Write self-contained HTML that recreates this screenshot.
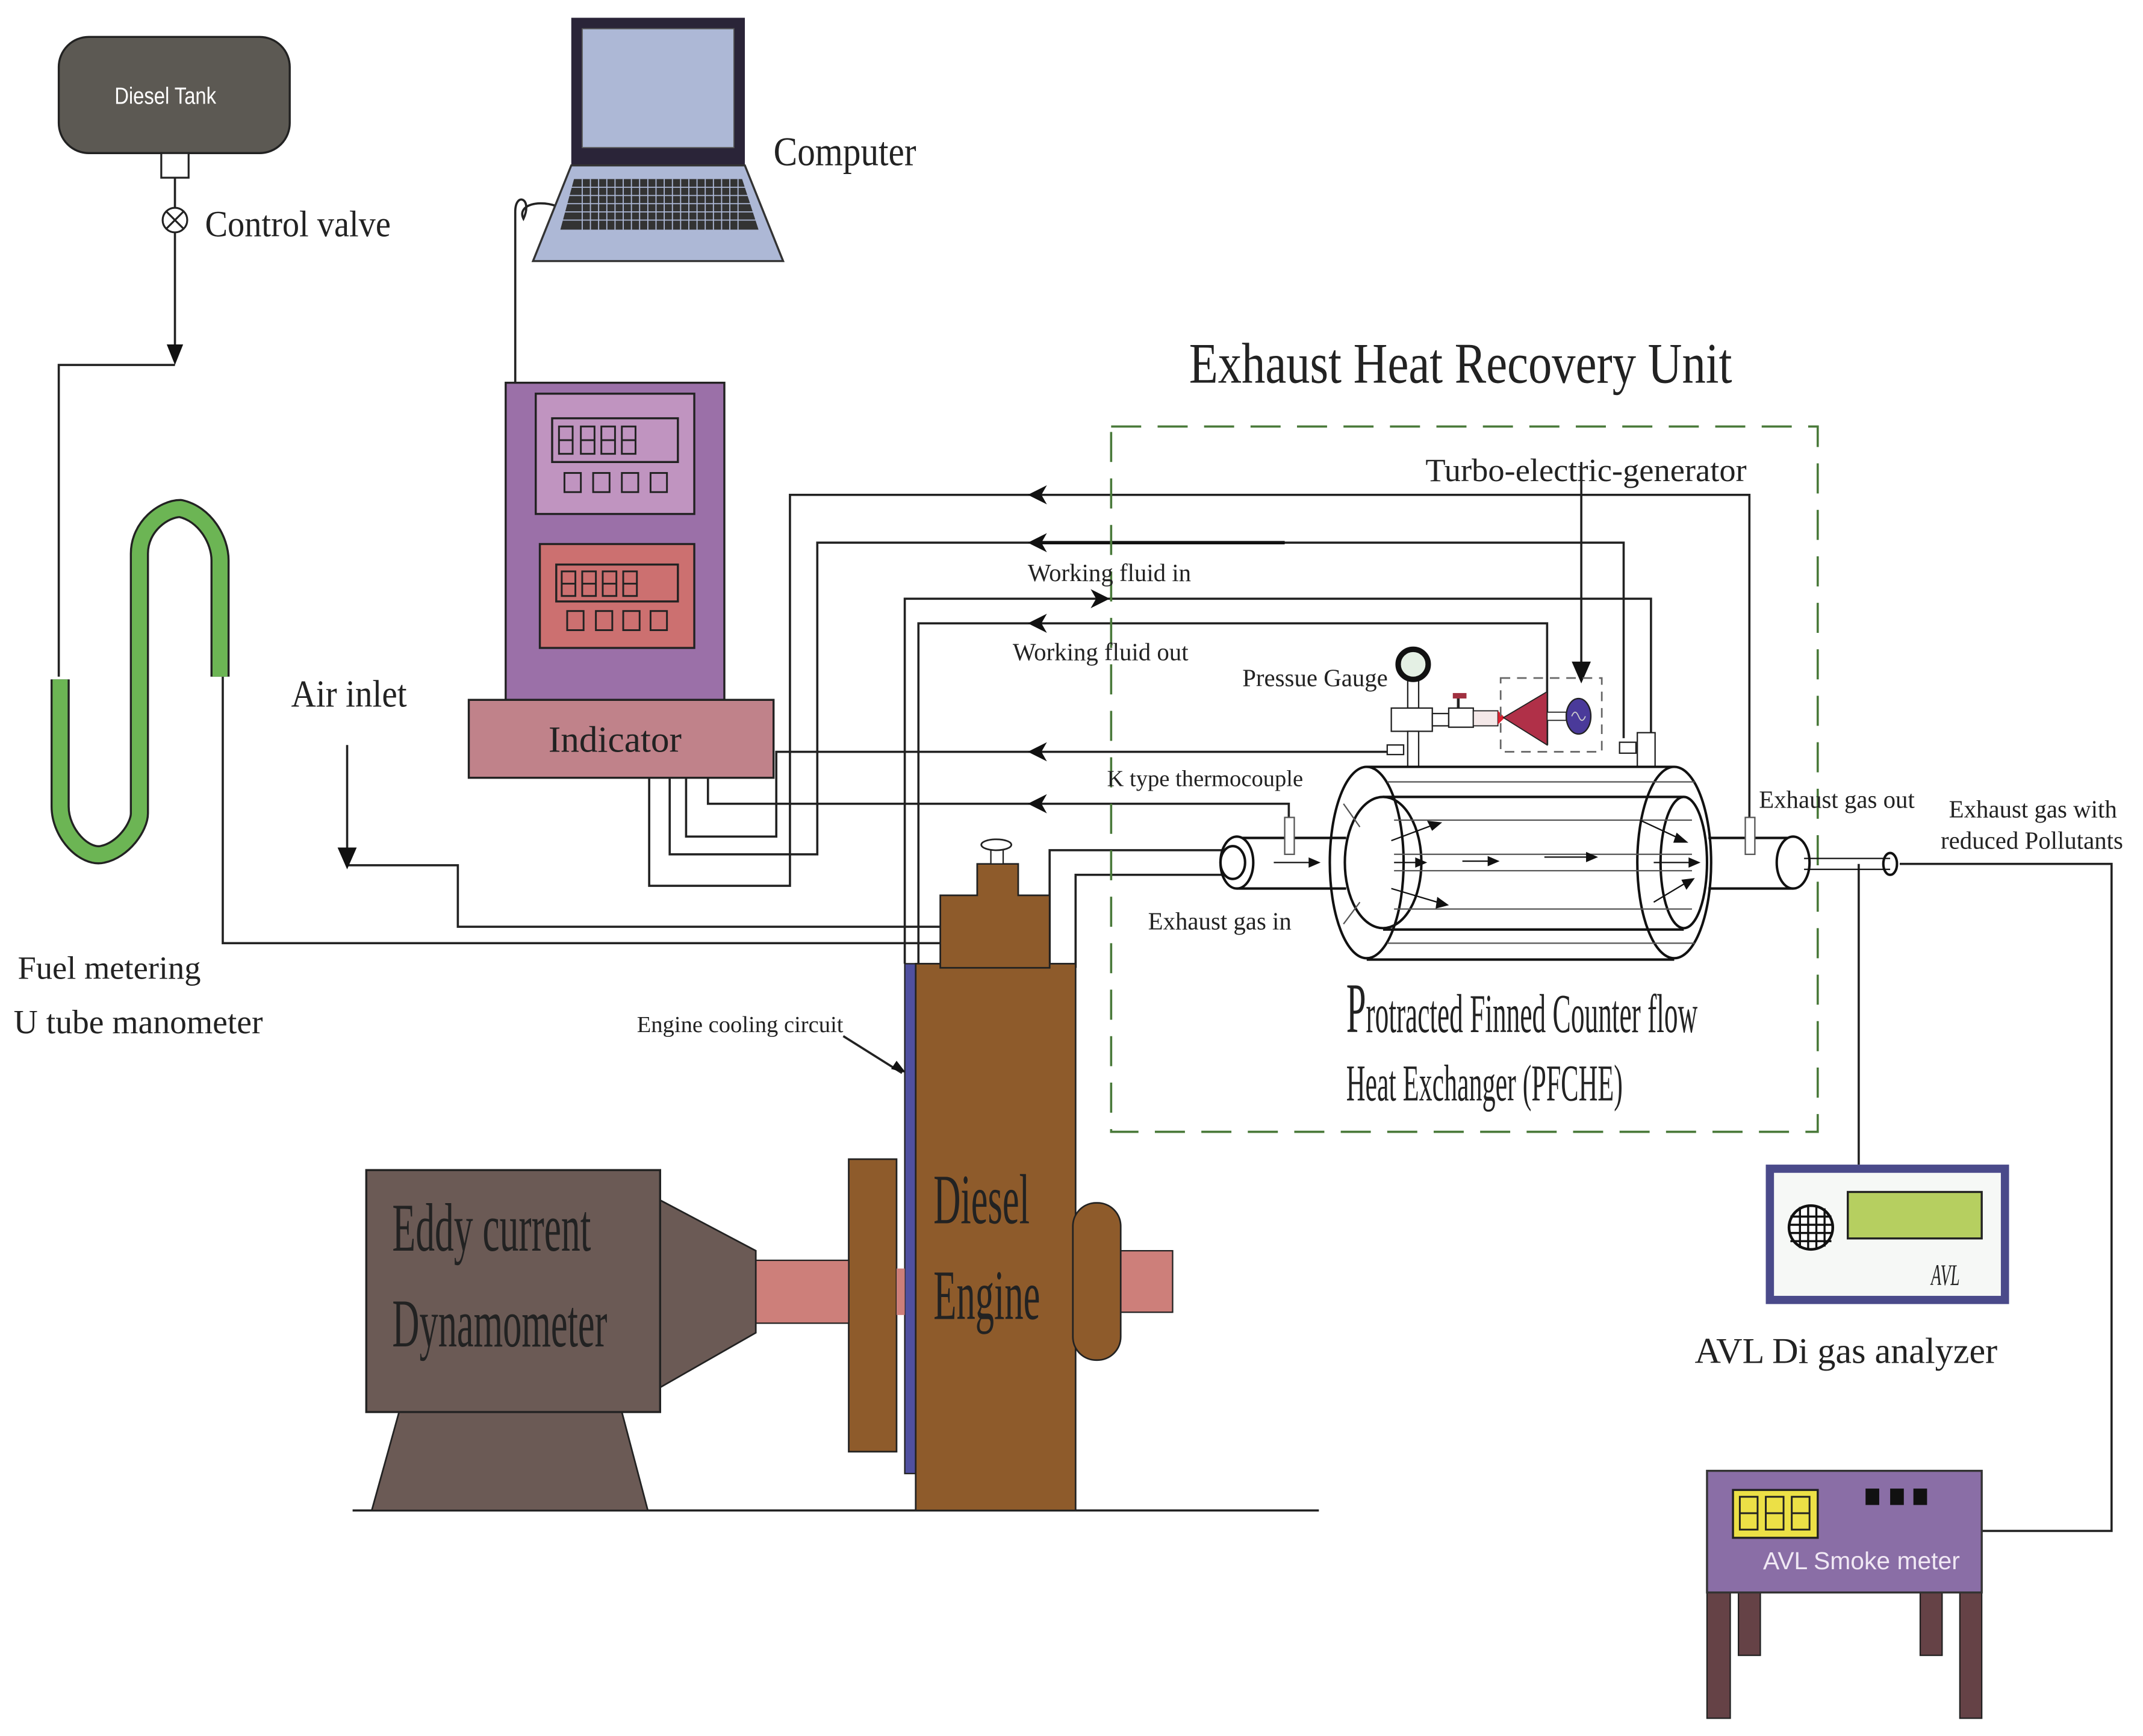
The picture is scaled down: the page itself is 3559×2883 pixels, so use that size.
<!DOCTYPE html>
<html><head><meta charset="utf-8"><style>html,body{margin:0;padding:0;background:#fff}svg{display:block}</style></head>
<body>
<svg xmlns="http://www.w3.org/2000/svg" width="3559" height="2883" viewBox="0 0 1568 1270" preserveAspectRatio="none" font-family="Liberation Serif, serif">
<rect width="1568" height="1270" fill="#fff"/>
<g stroke="#222" stroke-width="1.6" fill="none">
<polyline points="128,130 128,152"/>
<polyline points="128,170 128,258"/>
<polyline points="43,495 43,267 128,267"/>
<polyline points="163,495 163,690 688,690"/>
<polyline points="254,545 254,622"/>
<polyline points="254,633 335,633 335,678 688,678"/>
<path d="M377,280 L377,155 C377,140 390,145 383,160 C378,150 395,145 410,152"/>
<polyline points="1280,598 1280,362 578,362 578,648 475,648 475,569"/>
<polyline points="1188,540 1188,397 598,397 598,625 490,625 490,569"/>
<polyline points="1208,538 1208,438 662,438 662,705"/>
<polyline points="1132,545 1132,456 672,456 672,705"/>
<polyline points="1025,550 568,550 568,612 502,612 502,569"/>
<polyline points="943,598 943,588 518,588 518,569"/>
<polyline points="768,708 768,622 905,622"/>
<polyline points="787,708 787,640 905,640"/>
<polyline points="1390,632 1545,632 1545,1120 1450,1120"/>
<polyline points="1360,632 1360,852"/>
<line x1="1157" y1="338" x2="1157" y2="495"/>
<line x1="617" y1="758" x2="660" y2="785"/>
<line x1="258" y1="1105" x2="965" y2="1105"/>
</g>
<g stroke="#111" stroke-width="2.5">
<line x1="760" y1="397" x2="940" y2="397"/>
</g>
<g fill="#111">
<path d="M254,636 L247,620 L261,620 Z"/>
<path d="M128,267 L122,252 L134,252 Z"/>
<path d="M1157,500 L1150,484 L1164,484 Z"/>
<path d="M752,362 L766,355 L762,362 L766,369 Z"/>
<path d="M752,397 L766,390 L762,397 L766,404 Z"/>
<path d="M812,438 L798,431 L802,438 L798,445 Z"/>
<path d="M752,456 L766,449 L762,456 L766,463 Z"/>
<path d="M752,550 L766,543 L762,550 L766,557 Z"/>
<path d="M752,588 L766,581 L762,588 L766,595 Z"/>
<path d="M663,785 L652,782 L656,776 Z"/>
</g>
<rect x="43" y="27" width="169" height="85" rx="22" fill="#5c5953" stroke="#222" stroke-width="1.5"/>
<text x="121" y="76" fill="#fff" font-family="Liberation Sans, sans-serif" font-size="17" text-anchor="middle" transform="translate(121 76) scale(0.85 1) translate(-121 -76)">Diesel Tank</text>
<rect x="118" y="112" width="20" height="18" fill="#fff" stroke="#222" stroke-width="1.4"/>
<circle cx="128" cy="161" r="9" fill="#fff" stroke="#222" stroke-width="1.4"/>
<path d="M122,155 L134,167 M134,155 L122,167" stroke="#222" stroke-width="1.4"/>
<text x="150" y="173" font-size="27" fill="#222" transform="translate(150 173) scale(0.92 1) translate(-150 -173)">Control valve</text>
<path d="M44,497 L44,590 C44,610 62,628 75,625 C90,622 102,605 102,595 L102,405 C102,385 120,372 132,372 C150,376 161,395 161,410 L161,495" fill="none" stroke="#222" stroke-width="14" stroke-linejoin="round"/>
<path d="M44,497 L44,590 C44,610 62,628 75,625 C90,622 102,605 102,595 L102,405 C102,385 120,372 132,372 C150,376 161,395 161,410 L161,495" fill="none" stroke="#6cb554" stroke-width="11" stroke-linejoin="round"/>
<text x="13" y="716" font-size="24" fill="#222">Fuel metering</text>
<text x="10" y="756" font-size="24.5" fill="#222">U tube manometer</text>
<text x="213" y="517" font-size="28" fill="#222" transform="translate(213 517) scale(0.9 1) translate(-213 -517)">Air inlet</text>
<rect x="418" y="13" width="127" height="108" fill="#2a2438"/>
<rect x="426" y="21" width="111" height="87" fill="#adb8d6" stroke="#555" stroke-width="0.8"/>
<path d="M418,121 L545,121 L573,191 L390,191 Z" fill="#adb8d6" stroke="#333" stroke-width="1.5"/>
<path d="M420,131 L543,131 L555,168 L410,168 Z" fill="#333"/>
<g stroke="#adb8d6" stroke-width="0.8">
<line x1="418" y1="137" x2="547" y2="137"/><line x1="416" y1="143" x2="549" y2="143"/><line x1="414" y1="149" x2="551" y2="149"/><line x1="413" y1="155" x2="553" y2="155"/><line x1="411" y1="161" x2="554" y2="161"/>
<path d="M426,131 V168 M432,131 V168 M438,131 V168 M444,131 V168 M450,131 V168 M456,131 V168 M462,131 V168 M468,131 V168 M474,131 V168 M480,131 V168 M486,131 V168 M492,131 V168 M498,131 V168 M504,131 V168 M510,131 V168 M516,131 V168 M522,131 V168 M528,131 V168 M534,131 V168 M540,131 V168"/>
</g>
<text x="566" y="121" font-size="30" fill="#222" transform="translate(566 121) scale(0.87 1) translate(-566 -121)">Computer</text>
<rect x="370" y="280" width="160" height="232" fill="#9b70a8" stroke="#222" stroke-width="1.5"/>
<rect x="392" y="288" width="116" height="88" fill="#c094c0" stroke="#222" stroke-width="1.5"/>
<rect x="404" y="306" width="92" height="32" fill="none" stroke="#222" stroke-width="1.5"/>
<g fill="none" stroke="#222" stroke-width="1.3">
<rect x="409" y="312" width="10" height="20"/><rect x="425" y="312" width="10" height="20"/><rect x="440" y="312" width="10" height="20"/><rect x="455" y="312" width="10" height="20"/>
<path d="M409,322 H419 M425,322 H435 M440,322 H450 M455,322 H465"/>
<rect x="413" y="346" width="12" height="14"/><rect x="434" y="346" width="12" height="14"/><rect x="455" y="346" width="12" height="14"/><rect x="476" y="346" width="12" height="14"/>
</g>
<rect x="395" y="398" width="113" height="76" fill="#cc7070" stroke="#222" stroke-width="1.5"/>
<rect x="407" y="413" width="89" height="27" fill="none" stroke="#222" stroke-width="1.5"/>
<g fill="none" stroke="#222" stroke-width="1.3">
<rect x="411" y="418" width="10" height="18"/><rect x="426" y="418" width="10" height="18"/><rect x="441" y="418" width="10" height="18"/><rect x="456" y="418" width="10" height="18"/>
<path d="M411,427 H421 M426,427 H436 M441,427 H451 M456,427 H466"/>
<rect x="415" y="447" width="12" height="14"/><rect x="436" y="447" width="12" height="14"/><rect x="456" y="447" width="12" height="14"/><rect x="476" y="447" width="12" height="14"/>
</g>
<rect x="343" y="512" width="223" height="57" fill="#c0828a" stroke="#222" stroke-width="1.5"/>
<text x="450" y="550" font-size="27" fill="#222" text-anchor="middle">Indicator</text>
<rect x="662" y="705" width="9" height="373" fill="#5050a0" stroke="#222" stroke-width="1"/>
<rect x="670" y="705" width="117" height="400" fill="#8e5b2b" stroke="#222" stroke-width="1.2"/>
<path d="M688,708 L688,655 L715,655 L715,632 L745,632 L745,655 L768,655 L768,708 Z" fill="#8e5b2b" stroke="#222" stroke-width="1.2"/>
<rect x="725" y="620" width="9" height="12" fill="#fff" stroke="#222"/>
<ellipse cx="729" cy="618" rx="11" ry="4" fill="#fff" stroke="#222" stroke-width="1.2"/>
<rect x="621" y="848" width="35" height="214" fill="#8e5b2b" stroke="#222" stroke-width="1.2"/>
<rect x="553" y="922" width="68" height="46" fill="#cd7f7a" stroke="#222" stroke-width="1"/>
<rect x="656" y="928" width="6" height="34" fill="#cd7f7a"/>
<rect x="815" y="915" width="43" height="45" fill="#cd7f7a" stroke="#222" stroke-width="1"/>
<rect x="785" y="880" width="35" height="115" rx="17" fill="#8e5b2b" stroke="#222" stroke-width="1.2"/>
<text x="683" y="895" font-size="52" fill="#222" transform="translate(683 895) scale(0.53 1) translate(-683 -895)">Diesel</text>
<text x="683" y="965" font-size="52" fill="#222" transform="translate(683 965) scale(0.53 1) translate(-683 -965)">Engine</text>
<text x="466" y="755" font-size="17" fill="#222">Engine cooling circuit</text>
<path d="M292,1033 L455,1033 L474,1105 L272,1105 Z" fill="#6b5a55" stroke="#222" stroke-width="1.2"/>
<path d="M483,878 L553,915 L553,975 L483,1015 Z" fill="#6b5a55" stroke="#222" stroke-width="1.2"/>
<rect x="268" y="856" width="215" height="177" fill="#6b5a55" stroke="#222" stroke-width="1.5"/>
<text x="287" y="915" font-size="50" fill="#222" transform="translate(287 915) scale(0.56 1) translate(-287 -915)">Eddy current</text>
<text x="287" y="985" font-size="50" fill="#222" transform="translate(287 985) scale(0.55 1) translate(-287 -985)">Dynamometer</text>
<text x="870" y="280" font-size="42" fill="#222" transform="translate(870 280) scale(0.825 1) translate(-870 -280)">Exhaust Heat Recovery Unit</text>
<rect x="813" y="312" width="517" height="516" fill="none" stroke="#4a7a3a" stroke-width="1.6" stroke-dasharray="22 12"/>
<text x="1043" y="352" font-size="24" fill="#222">Turbo-electric-generator</text>
<text x="752" y="425" font-size="18" fill="#222">Working fluid in</text>
<text x="741" y="483" font-size="18" fill="#222">Working fluid out</text>
<text x="909" y="502" font-size="18" fill="#222">Pressue Gauge</text>
<text x="810" y="575" font-size="17" fill="#222">K type thermocouple</text>
<text x="1287" y="591" font-size="18" fill="#222">Exhaust gas out</text>
<text x="1426" y="598" font-size="18" fill="#222">Exhaust gas with</text>
<text x="1420" y="621" font-size="18" fill="#222">reduced Pollutants</text>
<text x="840" y="680" font-size="18" fill="#222">Exhaust gas in</text>
<rect x="1030" y="498" width="8" height="20" fill="#fff" stroke="#222"/>
<circle cx="1034" cy="486" r="11" fill="#e4f0e4" stroke="#111" stroke-width="4"/>
<rect x="1018" y="518" width="30" height="17" fill="#fff" stroke="#222"/>
<rect x="1030" y="535" width="8" height="26" fill="#fff" stroke="#222"/>
<rect x="1015" y="545" width="12" height="7" fill="#fff" stroke="#222"/>
<rect x="1048" y="522" width="12" height="9" fill="#fff" stroke="#222"/>
<rect x="1060" y="518" width="18" height="14" fill="#fff" stroke="#222"/>
<rect x="1066" y="511" width="2" height="7" fill="#222"/>
<rect x="1063" y="507" width="10" height="4" fill="#a03040"/>
<rect x="1078" y="520" width="18" height="11" fill="#f4e8e8" stroke="#222" stroke-width="0.8"/>
<path d="M1096,520 L1101,525 L1096,530 Z" fill="#e02030"/>
<path d="M1100,525 L1132,506 L1132,545 Z" fill="#b03048" stroke="#222" stroke-width="0.8"/>
<rect x="1132" y="521" width="14" height="6" fill="#fff" stroke="#222" stroke-width="0.8"/>
<ellipse cx="1155" cy="524" rx="9" ry="13" fill="#4a3a9a" stroke="#222"/>
<path d="M1150,524 q2.5,-6 5,0 t5,0" fill="none" stroke="#ccc" stroke-width="0.8"/>
<rect x="1098" y="496" width="74" height="54" fill="none" stroke="#666" stroke-width="1.2" stroke-dasharray="7 5"/>
<rect x="1185" y="543" width="12" height="8" fill="#fff" stroke="#222"/>
<rect x="1198" y="536" width="13" height="25" fill="#fff" stroke="#222"/>
<g stroke="#111" stroke-width="1.8" fill="none">
<path d="M1000,561 L1225,561 M1000,702 L1225,702"/>
<ellipse cx="1000" cy="631" rx="27" ry="70" fill="#fff"/>
<ellipse cx="1225" cy="631" rx="27" ry="70"/>
<path d="M1012,583 L1232,583 M1012,680 L1232,680"/>
<ellipse cx="1012" cy="631" rx="28" ry="48"/>
<ellipse cx="1232" cy="631" rx="17" ry="48"/>
<path d="M905,613 L985,613 M905,650 L985,650"/>
<ellipse cx="905" cy="631" rx="12" ry="19" fill="#fff"/>
<ellipse cx="902" cy="631" rx="9" ry="12"/>
<path d="M1250,613 L1312,613 M1250,650 L1312,650"/>
<ellipse cx="1312" cy="631" rx="12" ry="19" fill="#fff"/>
<ellipse cx="1383" cy="632" rx="5" ry="8"/>
<path d="M1320,628 L1383,628 M1320,636 L1383,636" stroke-width="1"/>
</g>
<g stroke="#555" stroke-width="1" fill="none">
<path d="M1015,572 L1240,572 M1015,690 L1240,690 M1020,600 L1238,600 M1020,665 L1238,665 M1020,625 L1238,625 M1020,637 L1238,637"/>
<path d="M983,588 L995,605 M983,676 L995,660"/>
<rect x="940" y="598" width="7" height="27" fill="#fff"/>
<rect x="1277" y="598" width="7" height="27" fill="#fff"/>
</g>
<g stroke="#111" stroke-width="1" fill="#111">
<path d="M932,631 L962,631"/><path d="M965,631 L958,628 L958,634 Z"/>
<path d="M1020,631 L1040,631"/><path d="M1043,631 L1036,628 L1036,634 Z"/>
<path d="M1070,630 L1093,630"/><path d="M1096,630 L1089,627 L1089,633 Z"/>
<path d="M1130,627 L1165,627"/><path d="M1168,627 L1161,624 L1161,630 Z"/>
<path d="M1210,631 L1240,631"/><path d="M1243,631 L1236,628 L1236,634 Z"/>
<path d="M1018,615 L1050,603"/><path d="M1054,602 L1045,601 L1048,607 Z"/>
<path d="M1018,650 L1055,661"/><path d="M1059,662 L1052,657 L1051,664 Z"/>
<path d="M1200,600 L1230,614"/><path d="M1234,616 L1227,610 L1225,616 Z"/>
<path d="M1210,660 L1235,645"/><path d="M1239,643 L1231,644 L1234,650 Z"/>
</g>
<text x="985" y="755" font-size="40" fill="#222" transform="translate(985 755) scale(0.5 1) translate(-985 -755)"><tspan font-size="52">P</tspan>rotracted Finned Counter flow</text>
<text x="985" y="805" font-size="38" fill="#222" transform="translate(985 805) scale(0.51 1) translate(-985 -805)">Heat Exchanger (PFCHE)</text>
<rect x="1295" y="855" width="172" height="96" fill="#f6f8f6" stroke="#4a4a8a" stroke-width="6"/>
<rect x="1352" y="872" width="98" height="34" fill="#b6cf60" stroke="#222" stroke-width="1.5"/>
<circle cx="1325" cy="898" r="16" fill="#fff" stroke="#111" stroke-width="2"/>
<g stroke="#111" stroke-width="1.5">
<path d="M1310,890 H1340 M1309,896 H1341 M1309,902 H1341 M1310,908 H1340 M1317,883 V913 M1323,882 V914 M1329,882 V914 M1335,884 V912"/>
</g>
<text x="1413" y="940" font-size="22" font-style="italic" fill="#222" transform="translate(1413 940) scale(0.55 1) translate(-1413 -940)">AVL</text>
<text x="1240" y="997" font-size="26.5" fill="#222">AVL Di gas analyzer</text>
<g fill="#654246" stroke="#222" stroke-width="1">
<rect x="1249" y="1165" width="17" height="92"/><rect x="1272" y="1165" width="16" height="46"/>
<rect x="1405" y="1165" width="16" height="46"/><rect x="1434" y="1165" width="16" height="92"/>
</g>
<rect x="1249" y="1076" width="201" height="89" fill="#8a6ea6" stroke="#333" stroke-width="1.5"/>
<rect x="1268" y="1090" width="62" height="35" fill="#ece046" stroke="#222" stroke-width="1.5"/>
<g fill="none" stroke="#222" stroke-width="1.3">
<rect x="1273" y="1095" width="13" height="24"/><rect x="1292" y="1095" width="13" height="24"/><rect x="1311" y="1095" width="13" height="24"/>
<path d="M1273,1107 H1286 M1292,1107 H1305 M1311,1107 H1324"/>
</g>
<rect x="1365" y="1089" width="10" height="12" fill="#111"/><rect x="1383" y="1089" width="10" height="12" fill="#111"/><rect x="1400" y="1089" width="10" height="12" fill="#111"/>
<text x="1290" y="1148" font-size="18" fill="#f0e8f4" font-family="Liberation Sans, sans-serif">AVL Smoke meter</text>
</svg>
</body></html>
